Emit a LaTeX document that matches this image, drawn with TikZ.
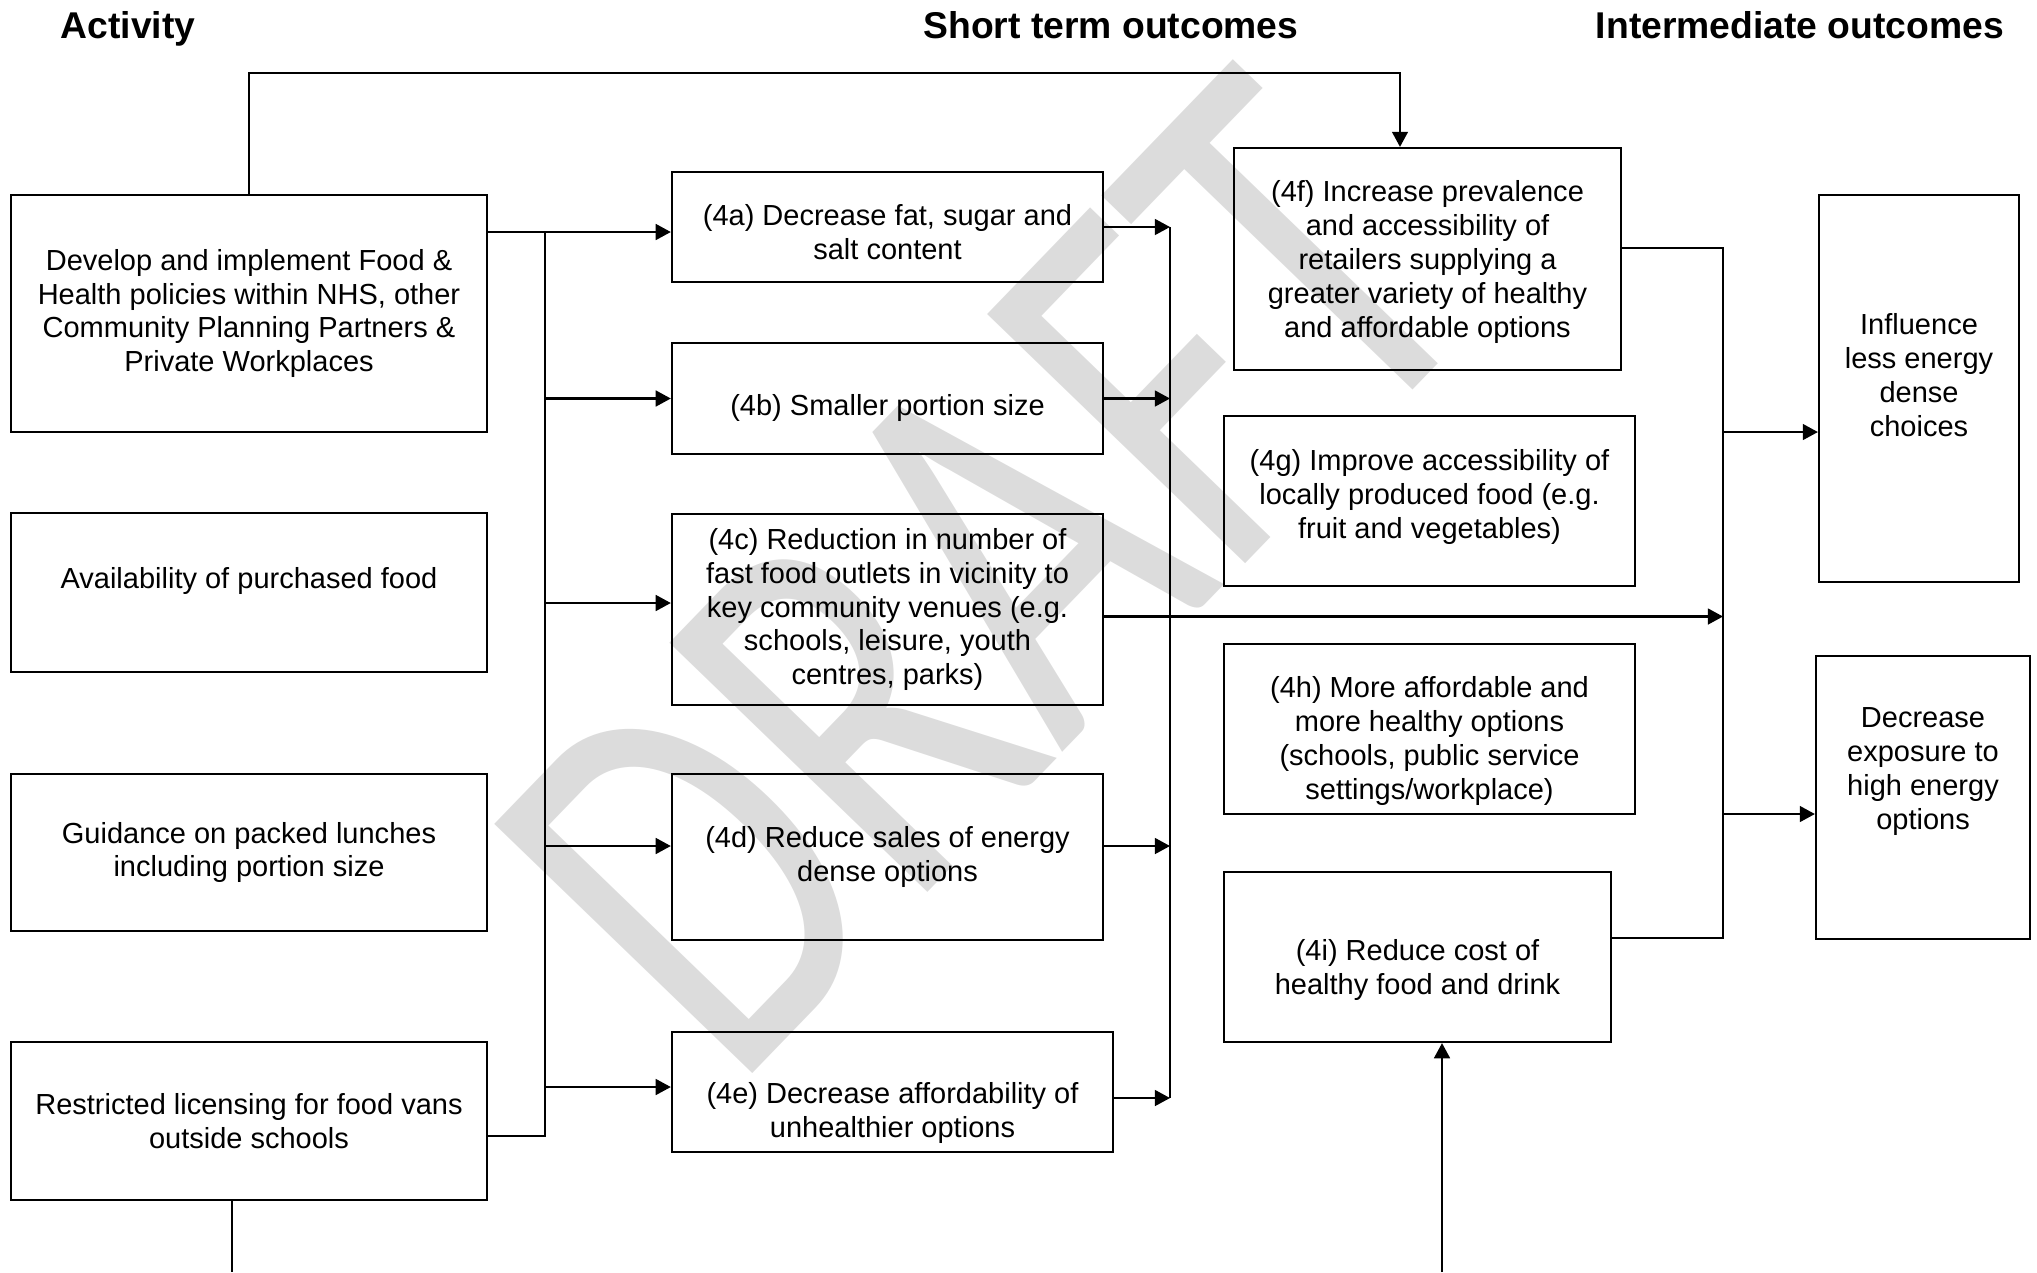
\documentclass[tikz,border=0pt]{standalone}
\usepackage{fontspec}
\setmainfont{Liberation Sans}
\newfontfamily\wmfont{Carlito}
\usetikzlibrary{arrows.meta, calc}
\definecolor{wmgrey}{HTML}{DCDCDC}

\begin{document}
\begin{tikzpicture}[x=0.01cm, y=-0.01cm,
    box/.style={draw, line width=0.6pt, align=center, inner sep=0pt,
                font=\fontsize{8.25pt}{9.6pt}\selectfont},
    txt/.style={align=center, inner sep=0pt, font=\fontsize{8.25pt}{9.6pt}\selectfont},
    say/.style 2 args={label={[txt, yshift=#1]center:{#2}}},
    head/.style={inner sep=0pt, font=\fontsize{10.6pt}{12pt}\selectfont\bfseries},
    arr/.style={-{Triangle[length=4.3pt, width=4.5pt]}, line width=0.6pt},
    link/.style={line width=0.6pt}
  ]
    \useasboundingbox (0,0) rectangle (2037,1272);

    % Watermark
    \node[wmgrey, rotate=46, xscale=0.73, inner sep=0pt,
          font=\wmfont\fontsize{159pt}{159pt}\selectfont] (wm) at (985,575) {DRAFT};

    % Column headings
    \node[head, anchor=base west] (hact) at (60,38) {Activity};
    \node[head, anchor=base] (hshort) at (1111,38) {Short term outcomes};
    \node[head, anchor=base] (hinter) at (1800,38) {Intermediate outcomes};

    % Activities
    \node[box, minimum width=4.76cm, minimum height=2.37cm] (act1) at (249,313.5)
      {Develop and implement Food \&\\Health policies within NHS, other\\Community Planning Partners \&\\Private Workplaces};
    \node[box, minimum width=4.76cm, minimum height=1.59cm,
          say={0.12cm}{Availability of purchased food}] (act2) at (249,592.5) {};
    \node[box, minimum width=4.76cm, minimum height=1.57cm] (act3) at (249,852.5)
      {Guidance on packed lunches\\including portion size};
    \node[box, minimum width=4.76cm, minimum height=1.58cm] (act4) at (249,1121)
      {Restricted licensing for food vans\\outside schools};

    % Short term outcomes
    \node[box, minimum width=4.31cm, minimum height=1.10cm,
          say={-0.05cm}{(4a) Decrease fat, sugar and\\salt content}] (a) at (887.5,227) {};
    \node[box, minimum width=4.31cm, minimum height=1.11cm,
          say={-0.09cm}{(4b) Smaller portion size}] (b) at (887.5,398.5) {};
    \node[box, minimum width=4.31cm, minimum height=1.91cm] (c) at (887.5,609.5)
      {(4c) Reduction in number of\\fast food outlets in vicinity to\\key community venues (e.g.\\schools, leisure, youth\\centres, parks)};
    \node[box, minimum width=4.31cm, minimum height=1.66cm] (d) at (887.5,857)
      {(4d) Reduce sales of energy\\dense options};
    \node[box, minimum width=4.41cm, minimum height=1.20cm,
          say={-0.21cm}{(4e) Decrease affordability of\\unhealthier options}] (e) at (892.5,1092) {};

    % Second column
    \node[box, minimum width=3.87cm, minimum height=2.22cm,
          say={-0.03cm}{(4f) Increase prevalence\\and accessibility of\\retailers supplying a\\greater variety of healthy\\and affordable options}] (f) at (1427.5,259) {};
    \node[box, minimum width=4.11cm, minimum height=1.70cm,
          say={0.04cm}{(4g) Improve accessibility of\\locally produced food (e.g.\\fruit and vegetables)}] (g) at (1429.5,501) {};
    \node[box, minimum width=4.11cm, minimum height=1.70cm,
          say={-0.12cm}{(4h) More affordable and\\more healthy options\\(schools, public service\\settings/workplace)}] (h) at (1429.5,729) {};
    \node[box, minimum width=3.87cm, minimum height=1.70cm,
          say={-0.13cm}{(4i) Reduce cost of\\healthy food and drink}] (i) at (1417.5,957) {};

    % Intermediate outcomes
    \node[box, minimum width=2.00cm, minimum height=3.87cm,
          say={0.135cm}{Influence\\less energy\\dense\\choices}] (inf) at (1919,388.5) {};
    \node[box, minimum width=2.14cm, minimum height=2.83cm,
          say={0.26cm}{Decrease\\exposure to\\high energy\\options}] (dec) at (1923,797.5) {};

    % Bus lines and off-centre ends
    \coordinate (lbus) at (545,0);
    \coordinate (rbus) at (1170,0);
    \coordinate (rv) at (1723,0);
    \coordinate (topy) at (0,73);
    \coordinate (fin) at ([xshift=-0.275cm]f.north);
    \coordinate (ain) at ([yshift=-0.05cm]a.west);
    \coordinate (cin) at ([yshift=0.065cm]c.west);
    \coordinate (cout) at ([yshift=-0.07cm]c.east);
    \coordinate (din) at ([yshift=0.11cm]d.west);
    \coordinate (dout) at ([yshift=0.11cm]d.east);
    \coordinate (ein) at ([yshift=0.05cm]e.west);
    \coordinate (eout) at ([yshift=-0.06cm]e.east);
    \coordinate (fout) at ([yshift=0.11cm]f.east);
    \coordinate (iout) at ([yshift=0.19cm]i.east);
    \coordinate (infin) at ([yshift=-0.435cm]inf.west);
    \coordinate (decin) at ([yshift=-0.165cm]dec.west);
    \coordinate (vanout) at ([yshift=-0.15cm]act4.east);
    \coordinate (bot1) at (232,1272);
    \coordinate (bot2) at (1442,1272);

    % Arrows
    \draw[arr] (act1.north) |- (fin |- topy) -- (fin);
    \draw[arr] (act1.east |- ain) -- (ain);
    \draw[link] (lbus |- ain) |- (vanout);
    \draw[arr] (lbus |- b.west) -- (b.west);
    \foreach \n in {cin,din,ein}
      \draw[arr] (lbus |- \n) -- (\n);
    \draw[arr] (a.east) -- (a.east -| rbus);
    \draw[arr] (b.east) -- (b.east -| rbus);
    \foreach \n in {dout,eout}
      \draw[arr] (\n) -- (\n -| rbus);
    \draw[link] (rbus |- a.east) -- (rbus |- eout);
    \draw[arr] (cout) -- (cout -| rv);
    \draw[link] (fout) -| (rv |- iout) -- (iout);
    \draw[arr] (rv |- infin) -- (infin);
    \draw[arr] (rv |- decin) -- (decin);
    \draw[link] (act4.south -| bot1) -- (bot1);
    \draw[arr] (bot2) -- (i.south -| bot2);
  \end{tikzpicture}
\end{document}
